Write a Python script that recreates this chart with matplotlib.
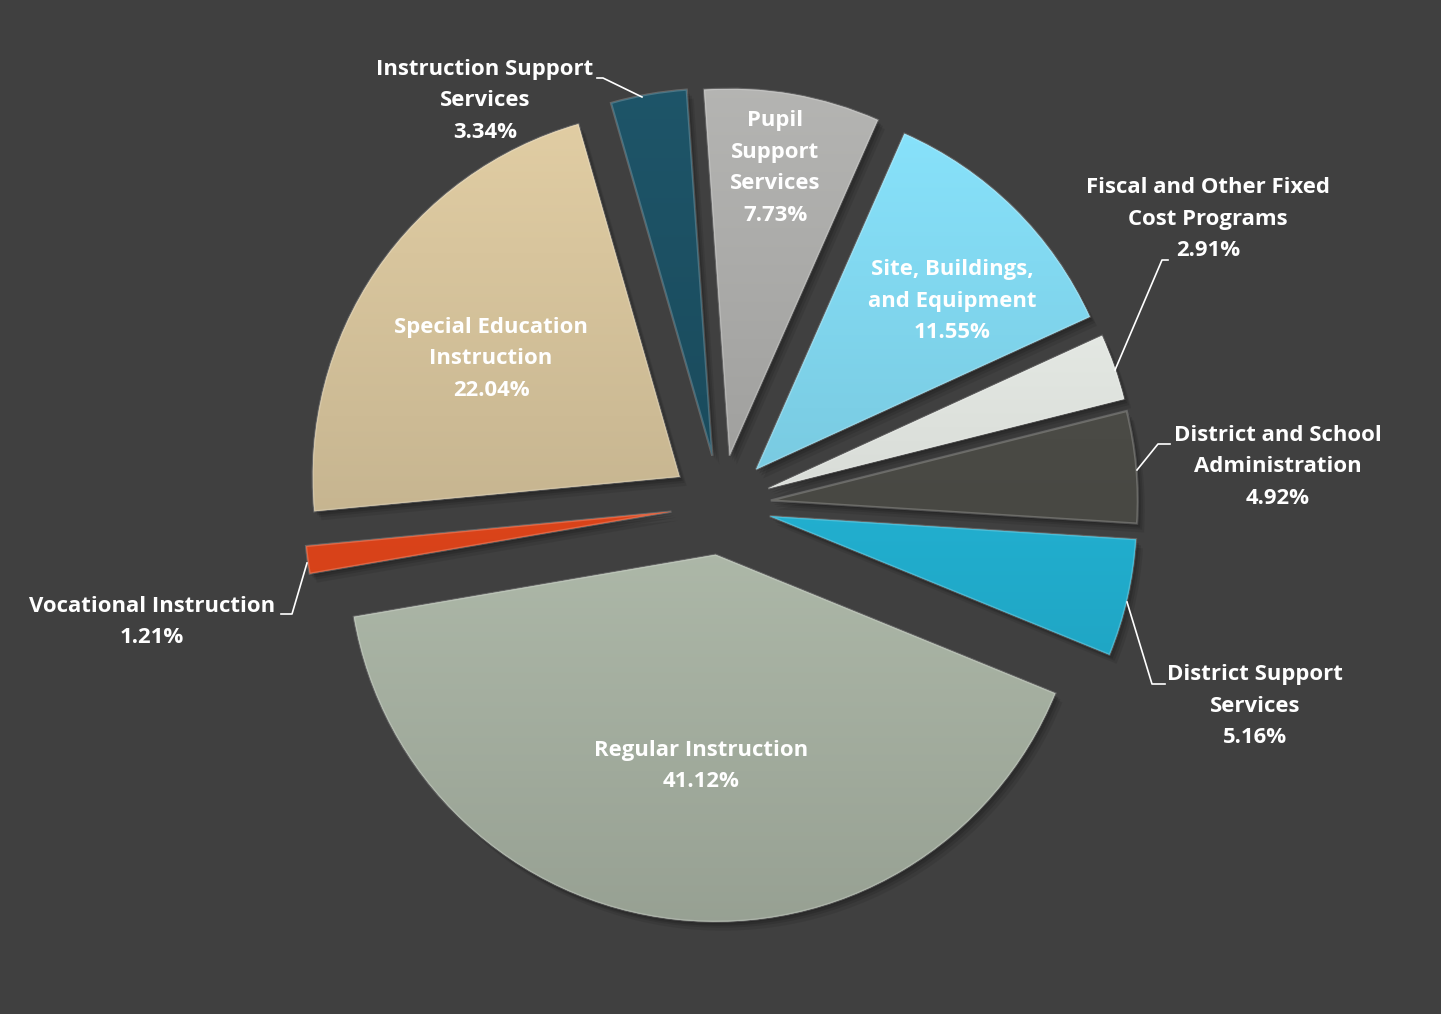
import numpy as np
import matplotlib
matplotlib.use("Agg")
import matplotlib.pyplot as plt
from matplotlib.patches import Wedge
from matplotlib.colors import to_rgb

# ---- data (clockwise from 12 o'clock) ----
categories = ["Pupil Support Services", "Site, Buildings, and Equipment",
              "Fiscal and Other Fixed Cost Programs", "District and School Administration",
              "District Support Services", "Regular Instruction", "Vocational Instruction",
              "Special Education Instruction", "Instruction Support Services"]
values = [7.73, 11.55, 2.91, 4.92, 5.16, 41.12, 1.21, 22.04, 3.34]
colors = ["#a4a4a2", "#7ccfe6", "#dde1dc", "#4a4a45", "#22b2d3",
          "#b0bbab", "#e0451a", "#cdbb95", "#1b4d5f"]
label_text = ["Pupil\nSupport\nServices\n7.73%",
              "Site, Buildings,\nand Equipment\n11.55%",
              "Fiscal and Other Fixed\nCost Programs\n2.91%",
              "District and School\nAdministration\n4.92%",
              "District Support\nServices\n5.16%",
              "Regular Instruction\n41.12%",
              "Vocational Instruction\n1.21%",
              "Special Education\nInstruction\n22.04%",
              "Instruction Support\nServices\n3.34%"]

W, H = 1441, 1014
BG = "#404040"
fig = plt.figure(figsize=(W / 100, H / 100), dpi=100, facecolor=BG)
ax = fig.add_axes([0, 0, 1, 1])
ax.set_facecolor(BG)

cx, cy, R = 721, H - 505, 367
explode = [50] * len(values)

# soft shadows
for dx, dy, a in [(7, -9, 0.08), (5, -6, 0.10), (3, -4, 0.12), (1, -2, 0.14)]:
    ax.pie(values, startangle=94, counterclock=False, explode=explode,
           radius=R, center=(cx + dx, cy + dy), colors=["black"] * len(values),
           wedgeprops=dict(alpha=a, linewidth=0))

wedges, _ = ax.pie(values, startangle=94, counterclock=False, explode=explode,
                   radius=R, center=(cx, cy), colors=colors,
                   wedgeprops=dict(linewidth=0))

# gradient fill for each wedge (brighter at top, darker at bottom)
n = 200
t = np.linspace(0, 1, n)[:, None] * np.ones((1, n))  # 0 bottom -> 1 top
for w, c in zip(wedges, colors):
    base = np.array(to_rgb(c))
    wx, wy = w.center
    r = w.r
    fac = 0.86 + 0.24 * t
    img = np.clip(base[None, None, :] * fac[..., None], 0, 1)
    im = ax.imshow(img, extent=(wx - r, wx + r, wy - r, wy + r), origin="lower",
                   interpolation="bilinear", zorder=2, aspect="auto")
    im.set_clip_path(w)
    # bevel highlight
    ax.add_patch(Wedge((wx, wy), r, w.theta1, w.theta2, fill=False,
                       edgecolor="white", alpha=0.2, linewidth=1.6, zorder=3))

ax.set_xlim(0, W)
ax.set_ylim(0, H)
ax.set_aspect("auto")
ax.axis("off")

font = dict(family=["Open Sans", "DejaVu Sans"], fontweight="bold", color="white",
            fontsize=15.9, ha="center", va="center", linespacing=1.68, zorder=5)

label_pos = [(775, 168), (952, 301), (1208, 219), (1278, 467), (1255, 706),
             (701, 766), (152, 622), (491, 359), (485, 101)]
for txt, (x, y) in zip(label_text, label_pos):
    ax.text(x, H - y, txt, **font)

# leader lines (image coords)
leaders = [
    [(597, 78), (603, 78), (642, 97)],        # Instruction Support
    [(1168, 260), (1162, 260), (1115, 370)],  # Fiscal
    [(1170, 444), (1158, 444), (1137, 470)],  # District Admin
    [(1165, 684), (1152, 684), (1127, 602)],  # District Support
    [(281, 614), (292, 614), (307, 563)],     # Vocational
]
for pts in leaders:
    xs = [p[0] for p in pts]
    ys = [H - p[1] for p in pts]
    ax.plot(xs, ys, color="white", linewidth=1.2, zorder=5)

fig.savefig("out.png", dpi=100, facecolor=BG)
